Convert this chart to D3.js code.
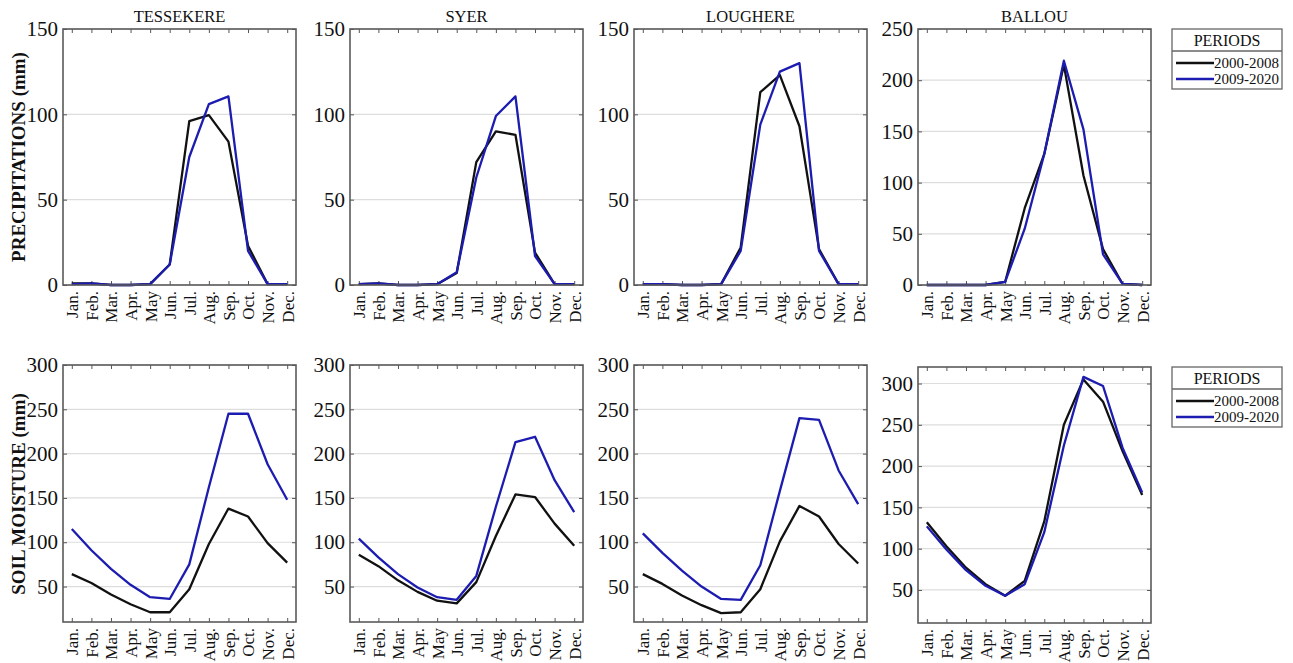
<!DOCTYPE html>
<html>
<head>
<meta charset="utf-8">
<script src="https://cdn.jsdelivr.net/npm/d3@7"></script>
<style>
  body { margin: 0; background: #fff; }
  svg text { font-family: "Liberation Serif", "DejaVu Serif", serif; }
</style>
</head>
<body>
<svg id="chart" width="1293" height="663"></svg>
<script>
// months along the x axis
var months = ['Jan.', 'Feb.', 'Mar.', 'Apr.', 'May', 'Jun.', 'Jul.', 'Aug.', 'Sep.', 'Oct.', 'Nov.', 'Dec.'];
var stations = ['TESSEKERE', 'SYER', 'LOUGHERE', 'BALLOU'];
var periods = ['2000-2008', '2009-2020'];

// precipitation (mm), one array per station and period
var precipTessekere2000 = [1, 1, 0, 0, 0.5, 12, 96, 99.5, 84, 23, 0.5, 0.5];
var precipTessekere2009 = [0.5, 1, 0, 0, 0.5, 12, 75, 106, 110.5, 20, 0.5, 0.5];
var precipSyer2000 = [0.5, 1, 0, 0, 0.5, 7, 72, 90, 88, 19, 0.5, 0.5];
var precipSyer2009 = [0.5, 1, 0, 0, 0.5, 7.5, 63, 99, 110.5, 17, 0.5, 0.5];
var precipLoughere2000 = [0.5, 0.5, 0, 0, 0.5, 22, 113, 123, 93, 21, 0.5, 0.5];
var precipLoughere2009 = [0.5, 0.5, 0, 0, 0.5, 20, 94, 125, 130, 20, 0.5, 0.5];
var precipBallou2000 = [0, 0, 0, 0, 3, 75, 128, 215, 107, 35, 1, 0];
var precipBallou2009 = [0, 0, 0, 0, 3, 55, 128, 219, 152, 30, 1, 0];

// soil moisture (mm)
var soilTessekere2000 = [64, 54, 41, 30, 21, 21, 47, 98, 138, 129, 99, 77];
var soilTessekere2009 = [115, 91, 70, 52, 38, 36, 75, 162, 245, 245, 188, 148];
var soilSyer2000 = [86, 73, 57, 44, 34, 31, 55, 107, 154, 151, 121, 96];
var soilSyer2009 = [104, 83, 64, 49, 38, 35, 62, 140, 213, 219, 170, 134];
var soilLoughere2000 = [64, 53, 40, 29, 20, 21, 47, 101, 141, 129, 98, 76];
var soilLoughere2009 = [110, 88, 68, 50, 36, 35, 74, 158, 240, 238, 181, 143];
var soilBallou2000 = [132, 103, 77, 57, 43, 61, 133, 250, 305, 278, 218, 165];
var soilBallou2009 = [127, 99, 74, 55, 43, 57, 120, 225, 308, 297, 222, 168];

// y domains and ticks
var precipDomains = [[0, 150], [0, 150], [0, 150], [0, 250]];
var precipTicks = [[0, 50, 100, 150], [0, 50, 100, 150], [0, 50, 100, 150], [0, 50, 100, 150, 200, 250]];
var soilDomains = [[10, 300], [10, 300], [10, 300], [10, 320]];
var soilTicks = [[50, 100, 150, 200, 250, 300], [50, 100, 150, 200, 250, 300], [50, 100, 150, 200, 250, 300], [50, 100, 150, 200, 250, 300]];

var colors = ['#111111', '#1c1cb0'];

var precipRows = [
  [precipTessekere2000, precipTessekere2009],
  [precipSyer2000, precipSyer2009],
  [precipLoughere2000, precipLoughere2009],
  [precipBallou2000, precipBallou2009]
];
var soilRows = [
  [soilTessekere2000, soilTessekere2009],
  [soilSyer2000, soilSyer2009],
  [soilLoughere2000, soilLoughere2009],
  [soilBallou2000, soilBallou2009]
];

var serif = '"Liberation Serif", "DejaVu Serif", serif';
var svg = d3.select('#chart');
var panelLefts = [63, 350, 634, 918];
var panelW = 233;

function drawPanel(left, top, height, series, domain, ticks, title) {
  var g = svg.append('g').attr('transform', 'translate(' + left + ',' + top + ')');
  var x = d3.scalePoint().domain(months).range([0, panelW]).padding(0.45);
  var y = d3.scaleLinear().domain(domain).range([height, 0]);

  // grid lines
  g.selectAll('.grid').data(ticks).enter().append('line')
    .attr('x1', 0).attr('x2', panelW)
    .attr('y1', function (d) { return y(d); })
    .attr('y2', function (d) { return y(d); })
    .attr('stroke', '#dddddd').attr('stroke-width', 1.2);

  // axes with inward ticks
  var yl = g.append('g').call(d3.axisLeft(y).tickValues(ticks).tickSizeInner(-4).tickSizeOuter(0).tickPadding(5));
  var yr = g.append('g').attr('transform', 'translate(' + panelW + ',0)')
    .call(d3.axisRight(y).tickValues(ticks).tickSizeInner(-4).tickSizeOuter(0).tickFormat(''));
  var xb = g.append('g').attr('transform', 'translate(0,' + height + ')')
    .call(d3.axisBottom(x).tickSizeInner(-4).tickSizeOuter(0).tickPadding(6));
  var xt = g.append('g').call(d3.axisTop(x).tickSizeInner(-4).tickSizeOuter(0).tickFormat(''));
  [yl, yr, xb, xt].forEach(function (a) {
    a.attr('font-family', serif);
    a.select('.domain').remove();
    a.selectAll('line').attr('stroke', '#555');
  });
  yl.selectAll('text').attr('font-size', 21).attr('fill', '#111');
  xb.selectAll('text')
    .attr('font-size', 17).attr('fill', '#111')
    .attr('transform', 'rotate(-90)')
    .attr('text-anchor', 'end')
    .attr('x', -6).attr('y', 0).attr('dy', '0.35em');

  // series lines
  var line = d3.line()
    .x(function (d, i) { return x(months[i]); })
    .y(function (d) { return y(d); });
  series.forEach(function (s, k) {
    g.append('path').datum(s)
      .attr('d', line)
      .attr('fill', 'none')
      .attr('stroke', colors[k])
      .attr('stroke-width', 2.3)
      .attr('stroke-linejoin', 'round');
  });

  // frame
  g.append('rect').attr('width', panelW).attr('height', height)
    .attr('fill', 'none').attr('stroke', '#5a5a5a').attr('stroke-width', 1.6);

  if (title) {
    g.append('text').attr('x', panelW / 2).attr('y', -7)
      .attr('text-anchor', 'middle').attr('font-size', 16.5).attr('fill', '#111')
      .text(title);
  }
}

function drawLegend(left, top) {
  var g = svg.append('g').attr('transform', 'translate(' + left + ',' + top + ')');
  g.append('rect').attr('width', 110).attr('height', 60)
    .attr('fill', '#fff').attr('stroke', '#666').attr('stroke-width', 1.3);
  g.append('line').attr('x1', 0).attr('x2', 110).attr('y1', 22).attr('y2', 22)
    .attr('stroke', '#666').attr('stroke-width', 1.3);
  g.append('text').attr('x', 55).attr('y', 17).attr('text-anchor', 'middle')
    .attr('font-size', 16).attr('fill', '#111').text('PERIODS');
  periods.forEach(function (p, i) {
    var yy = 34 + i * 16;
    g.append('line').attr('x1', 4).attr('x2', 42).attr('y1', yy).attr('y2', yy)
      .attr('stroke', colors[i]).attr('stroke-width', 2.3);
    g.append('text').attr('x', 42).attr('y', yy + 5)
      .attr('font-size', 15).attr('fill', '#111').text(p);
  });
}

stations.forEach(function (st, i) {
  drawPanel(panelLefts[i], 29, 256, precipRows[i], precipDomains[i], precipTicks[i], st);
  if (i < 3) {
    drawPanel(panelLefts[i], 365, 257, soilRows[i], soilDomains[i], soilTicks[i], null);
  } else {
    drawPanel(panelLefts[i], 367, 256, soilRows[i], soilDomains[i], soilTicks[i], null);
  }
});

drawLegend(1172, 29);
drawLegend(1172, 367);

// y axis titles
svg.append('text')
  .attr('transform', 'translate(25,157) rotate(-90)')
  .attr('text-anchor', 'middle').attr('font-size', 19).attr('font-weight', 'bold').attr('fill', '#111')
  .text('PRECIPITATIONS (mm)');
svg.append('text')
  .attr('transform', 'translate(25,494) rotate(-90)')
  .attr('text-anchor', 'middle').attr('font-size', 19).attr('font-weight', 'bold').attr('fill', '#111')
  .text('SOIL MOISTURE (mm)');
</script>
</body>
</html>
